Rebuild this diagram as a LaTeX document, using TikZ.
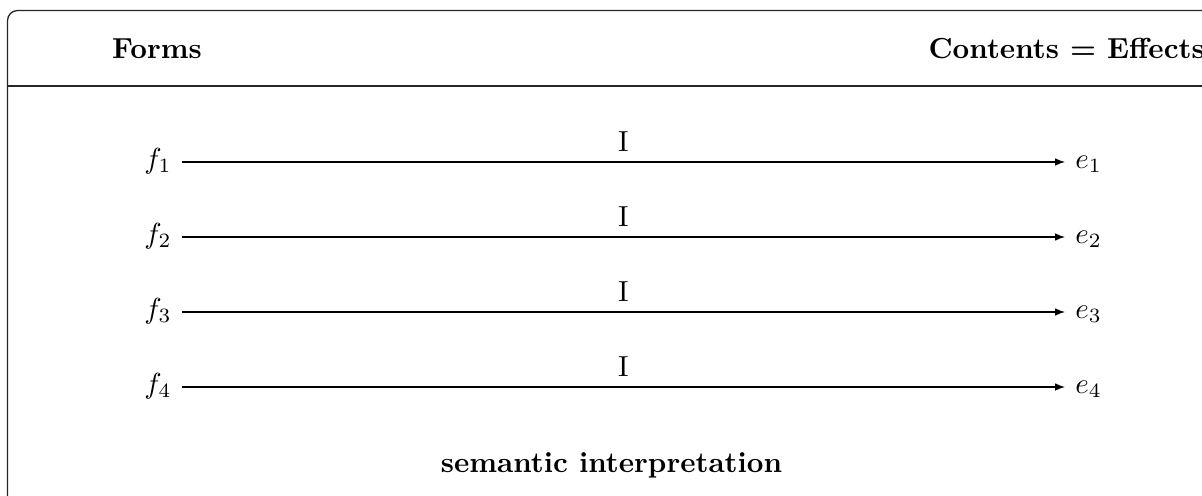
\documentclass[tikz,border=0pt]{standalone}
\usepackage{amsmath,amssymb}
\usepackage{xcolor}
\usetikzlibrary{arrows.meta,positioning}

\begin{document}
\begin{tikzpicture}[x=0.3448pt,y=-0.3448pt,
        hd/.style={inner sep=0pt,font=\bfseries},
        el/.style={text height=1.6ex,text depth=0.6ex},
        interp/.style={-{Latex[length=3.4pt,width=2.6pt]}},
        frame/.style={draw=black!85,line width=0.45pt}
      ]
        \useasboundingbox (0,0) rectangle (1202,495);
        \clip (0,0) rectangle (1202,495);
        % outer box and header rule
        \draw[frame,rounded corners=3.5pt] (7.5,10.5) rectangle (1250,560);
        \draw[frame] (7.5,86) -- (1250,86);
        \node[hd,anchor=base] (forms) at (157,58) {Forms};
        \node[hd,anchor=base west] (contents) at (928,58) {Contents = Effects};
        % forms and effects
        \node[el] (f1) at (158,162) {$f_1$};
        \node[el] (f2) at (158,237) {$f_2$};
        \node[el] (f3) at (158,312) {$f_3$};
        \node[el] (f4) at (158,387) {$f_4$};
        \node[el] (e1) at (1088.5,162) {$e_1$};
        \node[el] (e2) at (1088.5,237) {$e_2$};
        \node[el] (e3) at (1088.5,312) {$e_3$};
        \node[el] (e4) at (1088.5,387) {$e_4$};
        \draw[interp] (f1) -- (e1) node[midway,above]{I};
        \draw[interp] (f2) -- (e2) node[midway,above]{I};
        \draw[interp] (f3) -- (e3) node[midway,above]{I};
        \draw[interp] (f4) -- (e4) node[midway,above]{I};
        \node[hd,anchor=base] (sem) at (611.5,472) {semantic interpretation};
      \end{tikzpicture}
\end{document}
